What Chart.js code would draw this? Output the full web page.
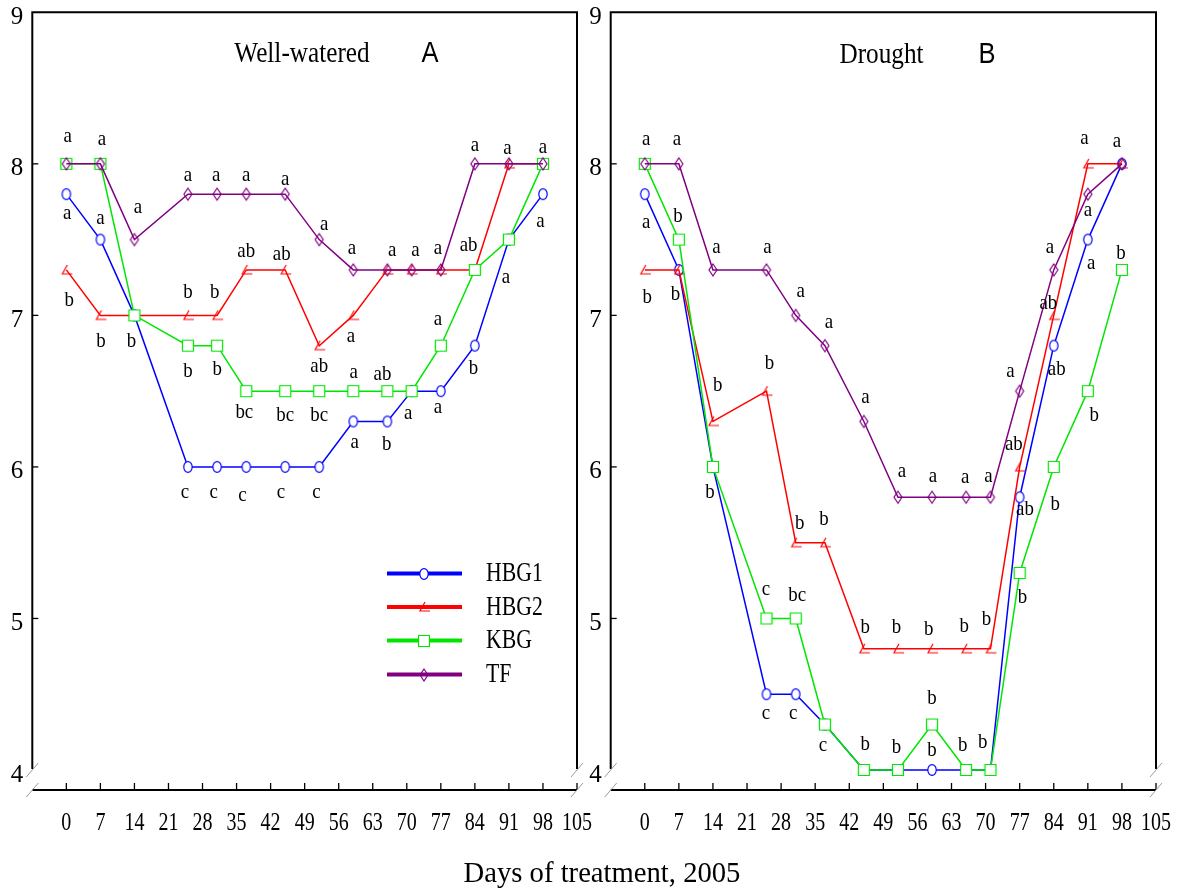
<!DOCTYPE html>
<html>
<head>
<meta charset="utf-8">
<script src="https://cdn.jsdelivr.net/npm/chart.js@4.4.1/dist/chart.umd.min.js"></script>
<style>
  html, body { margin: 0; padding: 0; background: #fff; }
  #wrap { position: relative; width: 1178px; height: 888px; overflow: hidden; background: #fff; }
  canvas { position: absolute; top: 0; }
  #xt { position: absolute; left: 602px; top: 857px; font: 30px 'Liberation Serif', serif; line-height: 30px;
        white-space: nowrap; color: #000; transform: translateX(-50%) scaleX(0.955); transform-origin: center; }
</style>
</head>
<body>
<div id="wrap">
  <canvas id="cA" width="610" height="888" style="left:0px"></canvas>
  <canvas id="cB" width="589" height="888" style="left:589px"></canvas>
  <div id="xt">Days of treatment, 2005</div>
</div>
<script>
// ---------------- data ----------------
const days = [0, 7, 14, 25, 31, 37, 45, 52, 59, 66, 71, 77, 84, 91, 98];
const xTicks = [0, 7, 14, 21, 28, 35, 42, 49, 56, 63, 70, 77, 84, 91, 98, 105];
const yTicks = [4, 5, 6, 7, 8, 9];
const seriesNames = ['HBG1', 'HBG2', 'KBG', 'TF'];

// Panel A: Well-watered
const HBG1_A = [7.8, 7.5, 7.0, 6.0, 6.0, 6.0, 6.0, 6.0, 6.3, 6.3, 6.5, 6.5, 6.8, 7.5, 7.8];
const HBG2_A = [7.3, 7.0, 7.0, 7.0, 7.0, 7.3, 7.3, 6.8, 7.0, 7.3, 7.3, 7.3, 7.3, 8.0, 8.0];
const KBG_A  = [8.0, 8.0, 7.0, 6.8, 6.8, 6.5, 6.5, 6.5, 6.5, 6.5, 6.5, 6.8, 7.3, 7.5, 8.0];
const TF_A   = [8.0, 8.0, 7.5, 7.8, 7.8, 7.8, 7.8, 7.5, 7.3, 7.3, 7.3, 7.3, 8.0, 8.0, 8.0];

// Panel B: Drought
const HBG1_B = [7.8, 7.3, 6.0, 4.5, 4.5, 4.3, 4.0, 4.0, 4.0, 4.0, 4.0, 5.8, 6.8, 7.5, 8.0];
const HBG2_B = [7.3, 7.3, 6.3, 6.5, 5.5, 5.5, 4.8, 4.8, 4.8, 4.8, 4.8, 6.0, 7.0, 8.0, 8.0];
const KBG_B  = [8.0, 7.5, 6.0, 5.0, 5.0, 4.3, 4.0, 4.0, 4.3, 4.0, 4.0, 5.3, 6.0, 6.5, 7.3];
const TF_B   = [8.0, 8.0, 7.3, 7.3, 7.0, 6.8, 6.3, 5.8, 5.8, 5.8, 5.8, 6.5, 7.3, 7.8, 8.0];

// significance letters: [day, value-axis anchor, letter]
const lettersA = [
  [0.3, 8.18, 'a'], [7.3, 8.16, 'a'], [14.7, 7.71, 'a'],
  [25, 7.92, 'a'], [30.8, 7.92, 'a'], [37, 7.92, 'a'], [45, 7.90, 'a'],
  [53, 7.60, 'a'], [58.7, 7.44, 'a'], [67, 7.43, 'a'], [71.8, 7.43, 'a'], [76.4, 7.44, 'a'],
  [82.7, 7.46, 'ab'], [84, 8.12, 'a'], [90.7, 8.10, 'a'], [98, 8.11, 'a'],
  [0.2, 7.67, 'a'], [7, 7.64, 'a'], [37, 7.42, 'ab'], [44.3, 7.40, 'ab'],
  [90.4, 7.25, 'a'], [97.5, 7.62, 'a'],
  [0.6, 7.10, 'b'], [25, 7.15, 'b'], [30.5, 7.15, 'b'],
  [7.1, 6.83, 'b'], [13.4, 6.83, 'b'], [25, 6.63, 'b'], [31, 6.64, 'b'],
  [52, 6.66, 'ab'], [58.5, 6.86, 'a'], [59.1, 6.62, 'a'], [65, 6.61, 'ab'],
  [36.6, 6.36, 'bc'], [45, 6.34, 'bc'], [52, 6.34, 'bc'],
  [59.3, 6.16, 'a'], [65.9, 6.15, 'b'], [70.3, 6.35, 'a'], [76.4, 6.39, 'a'],
  [76.4, 6.97, 'a'], [83.7, 6.65, 'b'],
  [24.4, 5.83, 'c'], [30.3, 5.83, 'c'], [36.2, 5.81, 'c'], [44.1, 5.83, 'c'], [51.4, 5.83, 'c']
];
const lettersB = [
  [0.3, 8.16, 'a'], [6.6, 8.16, 'a'], [0.3, 7.61, 'a'], [6.8, 7.65, 'b'],
  [14.7, 7.45, 'a'], [25.2, 7.45, 'a'], [0.5, 7.12, 'b'], [6.3, 7.14, 'b'],
  [90.3, 8.17, 'a'], [97, 8.15, 'a'], [91, 7.69, 'a'], [83.2, 7.45, 'a'],
  [91.7, 7.34, 'a'], [97.8, 7.41, 'b'],
  [32, 7.16, 'a'], [37.8, 6.95, 'a'], [15, 6.54, 'b'], [25.6, 6.68, 'b'],
  [45.3, 6.46, 'a'], [13.4, 5.83, 'b'],
  [52.8, 5.97, 'a'], [59.2, 5.94, 'a'], [65.8, 5.93, 'a'], [70.6, 5.94, 'a'],
  [31.8, 5.63, 'b'], [36.8, 5.65, 'b'],
  [82.9, 7.08, 'ab'], [75.1, 6.63, 'a'], [84.6, 6.64, 'ab'], [92.3, 6.34, 'b'],
  [75.8, 6.15, 'ab'], [78.1, 5.72, 'ab'], [84.3, 5.75, 'b'],
  [24.9, 5.19, 'c'], [31.3, 5.15, 'bc'],
  [45.3, 4.94, 'b'], [51.7, 4.94, 'b'], [58.3, 4.93, 'b'], [65.6, 4.95, 'b'], [70.2, 4.99, 'b'],
  [77.6, 5.14, 'b'], [24.9, 4.37, 'c'], [30.5, 4.37, 'c'], [59, 4.47, 'b'], [36.6, 4.16, 'c'],
  [45.3, 4.17, 'b'], [51.7, 4.15, 'b'], [59, 4.13, 'b'], [65.3, 4.16, 'b'], [69.4, 4.18, 'b']
];

// ---------------- styling ----------------
const COLORS = ['rgb(0,0,255)', 'rgb(255,0,0)', 'rgb(0,230,0)', 'rgb(128,0,128)'];
const SERIF = "'Liberation Serif', 'DejaVu Serif', serif";
const SANS = "'Liberation Sans', Arial, sans-serif";

function makeMarker(type, color) {
  const c = document.createElement('canvas');
  c.width = 14; c.height = 16;
  const g = c.getContext('2d');
  g.strokeStyle = color; g.fillStyle = '#fff'; g.lineWidth = 1.2;
  const cx = 7, cy = 8;
  g.beginPath();
  if (type === 'circle') { g.ellipse(cx, cy, 4.2, 5.4, 0, 0, Math.PI * 2); g.fill(); g.stroke(); }
  else if (type === 'square') { g.rect(cx - 5.5, cy - 5.5, 11, 11); g.fill(); g.stroke(); }
  else if (type === 'tri') { g.moveTo(cx + 1, cy - 5); g.lineTo(cx - 4, cy + 4); g.lineTo(cx + 6, cy + 4); g.stroke(); }
  else if (type === 'diamond') { g.moveTo(cx, cy - 6); g.lineTo(cx + 4, cy); g.lineTo(cx, cy + 6); g.lineTo(cx - 4, cy); g.closePath(); g.stroke(); }
  return c;
}
const MARKERS = [
  makeMarker('circle', COLORS[0]), makeMarker('tri', COLORS[1]),
  makeMarker('square', COLORS[2]), makeMarker('diamond', COLORS[3])
];

function txt(ctx, s, x, y, size, family, sx, align, baseline) {
  ctx.save();
  ctx.translate(x, y);
  ctx.scale(sx, 1);
  ctx.font = size + 'px ' + family;
  ctx.textAlign = align || 'center';
  ctx.textBaseline = baseline || 'middle';
  ctx.fillStyle = '#000';
  ctx.fillText(s, 0, 0);
  ctx.restore();
}

function decorPlugin(opts) {
  return {
    id: 'decor',
    afterDraw(chart) {
      const ctx = chart.ctx;
      const { left, right, top, bottom } = chart.chartArea;
      const xs = chart.scales.x, ys = chart.scales.y;
      const y4 = ys.getPixelForValue(4);
      ctx.save();
      // frame
      ctx.strokeStyle = '#000'; ctx.lineWidth = 2; ctx.lineCap = 'butt';
      ctx.beginPath();
      ctx.moveTo(left, y4 - 1); ctx.lineTo(left, top); ctx.lineTo(right, top); ctx.lineTo(right, y4 - 1);
      ctx.stroke();
      // y ticks (inward)
      ctx.lineWidth = 1.3;
      yTicks.forEach(v => {
        if (v === 4 || v === 9) return;
        const py = ys.getPixelForValue(v);
        ctx.beginPath(); ctx.moveTo(left, py); ctx.lineTo(left + 6, py); ctx.stroke();
      });
      // x axis line
      ctx.lineWidth = 2;
      ctx.beginPath(); ctx.moveTo(left, bottom); ctx.lineTo(right, bottom); ctx.stroke();
      ctx.lineWidth = 1.3;
      xTicks.forEach(v => {
        const px = xs.getPixelForValue(v);
        ctx.beginPath(); ctx.moveTo(px, bottom); ctx.lineTo(px, bottom - 7); ctx.stroke();
      });
      // axis breaks
      ctx.strokeStyle = '#9a9a9a'; ctx.lineWidth = 1;
      [left, right].forEach(xe => {
        [y4, bottom].forEach(ye => {
          ctx.beginPath(); ctx.moveTo(xe - 6, ye + 7); ctx.lineTo(xe + 6, ye - 7); ctx.stroke();
        });
      });
      ctx.restore();
      // y labels
      yTicks.forEach(v => {
        txt(ctx, String(v), left - 9, ys.getPixelForValue(v) + 5, 25, SERIF, 1.0, 'right', 'middle');
      });
      // x labels
      xTicks.forEach(v => {
        txt(ctx, String(v), xs.getPixelForValue(v), 830, 26, SERIF, 0.77, 'center', 'alphabetic');
      });
      // significance letters
      opts.letters.forEach(([d, v, s]) => {
        txt(ctx, s, xs.getPixelForValue(d), ys.getPixelForValue(v), 21, SERIF, 0.9, 'center', 'middle');
      });
      // titles
      txt(ctx, opts.title, opts.titleX, opts.titleY, 29, SERIF, 0.87, 'center', 'alphabetic');
      txt(ctx, opts.tag, opts.tagX, opts.titleY, 29, SANS, 0.88, 'center', 'alphabetic');
      // legend
      if (opts.legend) {
        const ly = [573.5, 607, 640.5, 674.5];
        seriesNames.forEach((name, i) => {
          ctx.save();
          ctx.strokeStyle = COLORS[i]; ctx.lineWidth = 4;
          ctx.beginPath(); ctx.moveTo(387, ly[i]); ctx.lineTo(462, ly[i]); ctx.stroke();
          ctx.restore();
          ctx.drawImage(MARKERS[i], 424 - 7, Math.round(ly[i]) - 8);
          txt(ctx, name, 486, ly[i] + 1, 26.5, SERIF, 0.82, 'left', 'middle');
        });
      }
    }
  };
}

function build(canvasId, vals, opts) {
  const datasets = vals.map((arr, i) => ({
    label: seriesNames[i],
    data: days.map((d, k) => ({ x: d, y: arr[k] })),
    borderColor: COLORS[i],
    backgroundColor: COLORS[i],
    borderWidth: 1.5,
    pointStyle: MARKERS[i],
    pointRadius: 5,
    pointHoverRadius: 5,
    tension: 0,
    fill: false,
    order: [3, 2, 1, 0][i],
    clip: false
  }));
  return new Chart(document.getElementById(canvasId), {
    type: 'line',
    data: { datasets },
    options: {
      responsive: false,
      devicePixelRatio: 1,
      animation: false,
      events: [],
      layout: { padding: { left: opts.padL, right: opts.padR, top: 12.3, bottom: 98 } },
      plugins: { legend: { display: false }, tooltip: { enabled: false }, title: { display: false } },
      scales: {
        x: { type: 'linear', min: -7, max: 105, display: false },
        y: { type: 'linear', min: 3.868, max: 9, display: false }
      }
    },
    plugins: [decorPlugin(opts)]
  });
}

build('cA', [HBG1_A, HBG2_A, KBG_A, TF_A], {
  padL: 32.3, padR: 33, letters: lettersA,
  title: 'Well-watered', titleX: 302, titleY: 62, tag: 'A', tagX: 430, legend: true
});
build('cB', [HBG1_B, HBG2_B, KBG_B, TF_B], {
  padL: 21.7, padR: 22, letters: lettersB,
  title: 'Drought', titleX: 292.5, titleY: 63, tag: 'B', tagX: 398, legend: false
});
</script>
</body>
</html>
